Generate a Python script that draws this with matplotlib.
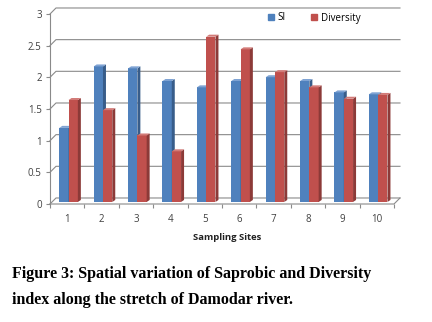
import matplotlib.pyplot as plt
from matplotlib.patches import Patch, Polygon

sites = ["1", "2", "3", "4", "5", "6", "7", "8", "9", "10"]
si = [1.17, 2.14, 2.11, 1.91, 1.81, 1.91, 1.97, 1.91, 1.73, 1.70]
diversity = [1.61, 1.45, 1.05, 0.80, 2.61, 2.41, 2.05, 1.81, 1.63, 1.69]
yticks = [0, 0.5, 1, 1.5, 2, 2.5, 3]
ytick_labels = ["0", "0.5", "1", "1.5", "2", "2.5", "3"]

BLUE = ("#4F81BD", "#385D8A", "#7FA3D3")
RED = ("#C0504D", "#8C3A38", "#D27B78")
GRID = "#8a8a8a"
TXT = "#404040"

# depth of the bars and of the back wall, in data units
BAR_W = 0.27
BAR_DX, BAR_DY = 0.087, 0.032
WALL_DX, WALL_DY = 0.174, 0.095
BASE = WALL_DY / 3  # bars stand a little back on the floor


def bar3d(ax, x0, h, colors, z):
    front, side, top = colors
    y0, y1 = BASE, BASE + h
    ax.bar(x0, h, width=BAR_W, bottom=y0, align="edge", color=front, lw=0, zorder=z)
    x1 = x0 + BAR_W
    ax.add_patch(Polygon([(x1, y0), (x1 + BAR_DX, y0 + BAR_DY), (x1 + BAR_DX, y1 + BAR_DY), (x1, y1)],
                         closed=True, fc=side, lw=0, zorder=z))
    ax.add_patch(Polygon([(x0, y1), (x0 + BAR_DX, y1 + BAR_DY), (x1 + BAR_DX, y1 + BAR_DY), (x1, y1)],
                         closed=True, fc=top, lw=0, zorder=z, clip_on=False))


fig = plt.figure(figsize=(4.32, 3.22), dpi=100)
ax = fig.add_axes([50 / 432, (322 - 204) / 322, 344 / 432, 190 / 322])
ax.set_xlim(-0.5, len(sites) - 0.5)
ax.set_ylim(0, 3)
for s in ax.spines.values():
    s.set_visible(False)

xl, xr = -0.5, len(sites) - 0.5
# side wall + back wall gridlines
for y in yticks:
    ax.plot([xl, xl + WALL_DX, xr + WALL_DX], [y, y + WALL_DY, y + WALL_DY],
            color=GRID, lw=0.8, zorder=1, clip_on=False)
# floor
ax.plot([xl, xr, xr + WALL_DX], [0, 0, WALL_DY], color=GRID, lw=0.8, zorder=1, clip_on=False)
ax.plot([xl, xl], [0, 3], color=GRID, lw=0.8, zorder=1, clip_on=False)

for i in range(len(sites)):
    bar3d(ax, i - 0.23, si[i], BLUE, 3 + 2 * i)
    bar3d(ax, i + 0.04, diversity[i], RED, 4 + 2 * i)

ax.set_yticks(yticks)
ax.set_yticklabels(ytick_labels)
ax.tick_params(axis="y", length=3, width=0.8, color=GRID, pad=3, labelsize=7, labelcolor=TXT)
ax.set_xticks(range(len(sites)))
ax.set_xticklabels(sites)
ax.set_xticks([i - 0.5 for i in range(len(sites) + 1)], minor=True)
ax.tick_params(axis="x", which="major", length=0, pad=7, labelsize=7, labelcolor=TXT)
ax.tick_params(axis="x", which="minor", length=3, width=0.8, color=GRID)
for lab in ax.get_xticklabels() + ax.get_yticklabels():
    lab.set_family("Open Sans")

fig.text(227 / 432, 1 - 237 / 322, "Sampling Sites", ha="center", va="center",
         fontsize=6.8, fontweight="bold", family="Open Sans", color="#222222")

handles = [Patch(color=BLUE[0], label="SI"), Patch(color=RED[0], label="Diversity")]
fig.legend(handles=handles, loc="center", bbox_to_anchor=(314 / 432, 1 - 18 / 322),
           ncol=2, frameon=False, handlelength=0.6, handleheight=0.6, handletextpad=0.4,
           columnspacing=2.6, prop={"family": "Open Sans", "size": 7})

fig.text(12 / 432, 1 - 274 / 322, "Figure 3: Spatial variation of Saprobic and Diversity",
         ha="left", va="center", fontsize=11.5, fontweight="bold", family="Liberation Serif")
fig.text(12 / 432, 1 - 300 / 322, "index along the stretch of Damodar river.",
         ha="left", va="center", fontsize=11.5, fontweight="bold", family="Liberation Serif")

fig.savefig("out.png", dpi=100)
